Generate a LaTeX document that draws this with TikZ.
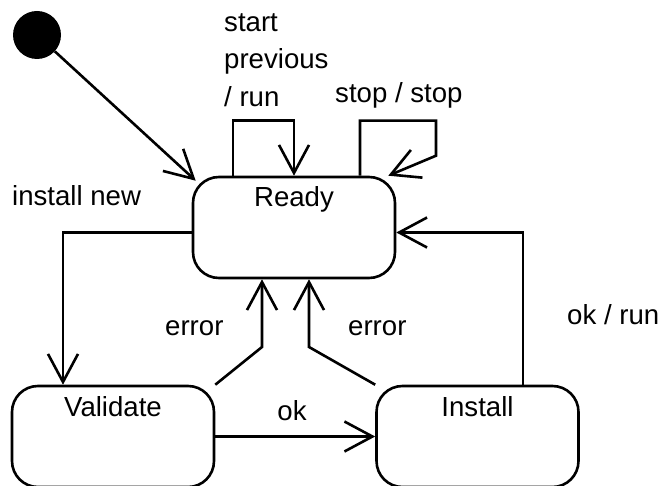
\documentclass[tikz,border=0pt]{standalone}
\usepackage{fontspec}
\setmainfont{Liberation Sans}
\usetikzlibrary{arrows.meta}
\begin{document}
\begin{tikzpicture}[x=1pt,y=1pt,
  every node/.style={font=\fontsize{27.6}{37.5}\selectfont},
  statebox/.style={draw, line width=2.6pt, rounded corners=26pt,
    minimum width=202pt, minimum height=101pt, inner xsep=0pt, inner ysep=0pt,
    text height=30pt, text depth=71pt},
  tr/.style={draw, line width=2.6pt,
    -{Straight Barb[length=28pt,width=30pt]}},
  lbl/.style={inner sep=0pt}]
\useasboundingbox (0,0) rectangle (660,-486);
% states
\node[circle, fill=black, minimum size=48pt, inner sep=0pt] (init) at (37,-35) {};
\node[statebox] (ready) at (294,-227.5) {Ready};
\node[statebox] (validate) at (113,-436.5) {Validate};
\node[statebox] (install) at (477.5,-436.5) {Install};
% helper coordinates
\coordinate (k1) at (262,-347);
\coordinate (k2) at (309,-347);
% transitions
\draw[tr] (init) -- ([shift={(4pt,-5pt)}]ready.north west);
\draw[tr] ([xshift=-61pt]ready.north) -- ++(0,55) -| (ready.north);
\draw[tr] ([xshift=66pt]ready.north) -- ++(0,55) -- ++(76,0) -- ++(0,-35)
  -- ([xshift=-8pt]ready.north east);
\draw[tr] ([yshift=-5pt]ready.west) -| ([xshift=-50pt]validate.north);
\draw[tr] (validate.east) -- (install.west);
\draw[tr] (validate.north east) -- (k1) -- (k1 |- ready.south);
\draw[tr] (install.north west) -- (k2) -- (k2 |- ready.south);
\draw[tr] ([xshift=45.5pt]install.north) |- ([yshift=-5pt]ready.east);
% labels
\node[lbl, align=left, anchor=north west] (lstart) at (224,-13) {start\\previous\\/ run};
\node[lbl, anchor=base west] (lstop) at (335,-103) {stop / stop};
\node[lbl, anchor=base west] (linstall) at (12,-206) {install new};
\node[lbl, anchor=base west] (lerr1) at (165,-335) {error};
\node[lbl, anchor=base west] (lerr2) at (348,-335) {error};
\node[lbl, anchor=base] (lok) at (292,-420) {ok};
\node[lbl, anchor=base west] (lokrun) at (567,-324) {ok / run};
\end{tikzpicture}
\end{document}
